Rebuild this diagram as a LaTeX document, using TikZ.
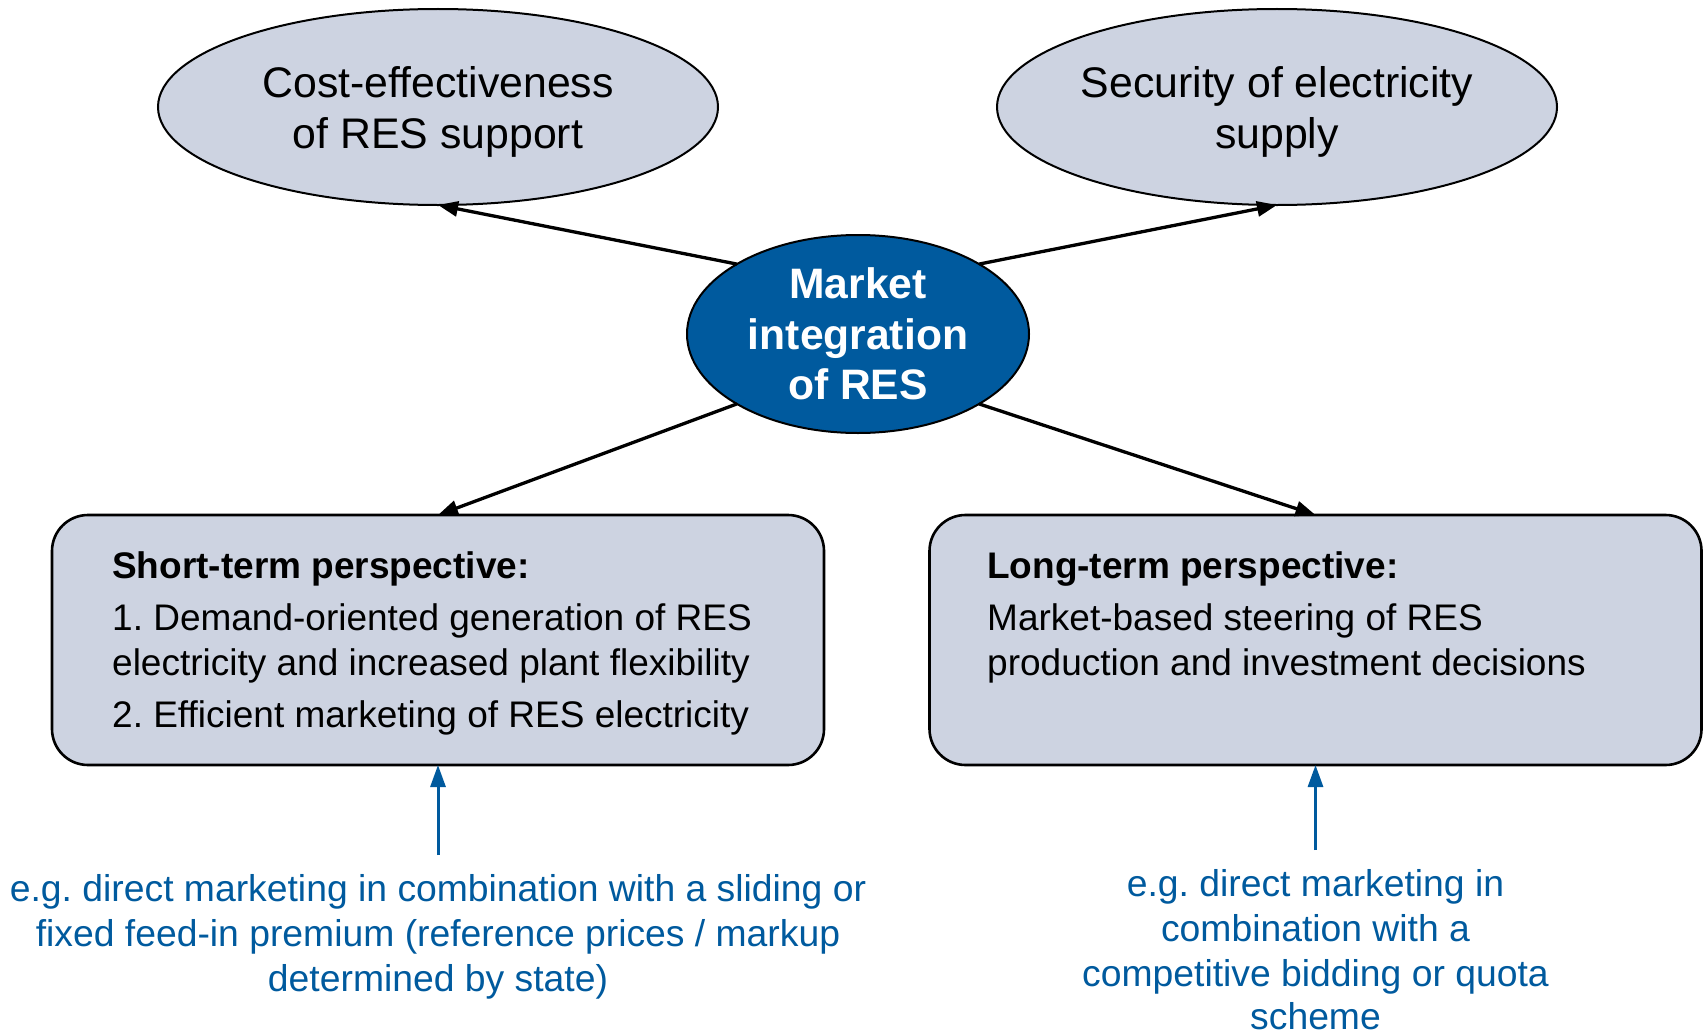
\documentclass[tikz,border=0pt]{standalone}
\usepackage{fontspec}
\setmainfont{Liberation Sans}
\usetikzlibrary{shapes.geometric,arrows.meta}
\definecolor{panel}{RGB}{205,211,225}
\definecolor{deepblue}{RGB}{0,90,158}
\frenchspacing
\begin{document}
\begin{tikzpicture}[x=1pt,y=-1pt,
  goal/.style={ellipse,draw=black,line width=2pt,fill=panel,
    minimum width=560pt,minimum height=196pt,inner sep=0pt,outer sep=0pt},
  hub/.style={ellipse,draw=black,line width=2pt,fill=deepblue,
    minimum width=342pt,minimum height=198pt,inner sep=0pt,outer sep=0pt},
  panelbox/.style={rectangle,rounded corners=36pt,draw=black,line width=2.6pt,
    fill=panel,minimum width=772pt,minimum height=250pt,inner sep=0pt,outer sep=0pt},
  bigtext/.style={anchor=base,inner sep=0pt,font=\fontsize{42.8pt}{50pt}\selectfont},
  hubtext/.style={anchor=base,inner sep=0pt,text=white,font=\fontsize{42.6pt}{50pt}\selectfont\bfseries},
  boxtext/.style={anchor=base west,inner sep=0pt,font=\fontsize{37pt}{45pt}\selectfont},
  boxhead/.style={boxtext,font=\fontsize{37pt}{45pt}\selectfont\bfseries},
  notetext/.style={anchor=base,inner sep=0pt,text=deepblue,font=\fontsize{37.3pt}{45pt}\selectfont},
  conn/.style={draw=black,line width=3.3pt,-{Triangle[length=20pt,width=15pt]}},
  noteconn/.style={draw=deepblue,line width=3pt,-{Triangle[length=22pt,width=15pt]}}
]
\useasboundingbox (0,0) rectangle (1707,1033);

% goals at the top
\node[goal] (cost) at (438,107) {};
\node[bigtext] (costA) at (438,97) {Cost-effectiveness};
\node[bigtext] (costB) at (438,148) {of RES support};

\node[goal] (secu) at (1277,107) {};
\node[bigtext] (secuA) at (1277,97) {Security of electricity};
\node[bigtext] (secuB) at (1277,148) {supply};

% central topic
\node[hub] (hub) at (858,334) {};
\node[hubtext] (hubA) at (858,298) {Market};
\node[hubtext] (hubB) at (858,349) {integration};
\node[hubtext] (hubC) at (858,399) {of RES};

% perspectives
\node[panelbox] (short) at (438,640) {};
\node[boxhead] (shortH) at (112,578) {Short-term perspective:};
\node[boxtext] (shortA) at (112,630) {1. Demand-oriented generation of RES};
\node[boxtext] (shortB) at (112,675) {electricity and increased plant flexibility};
\node[boxtext] (shortC) at (112,727) {2. Efficient marketing of RES electricity};

\node[panelbox] (long) at (1315.5,640) {};
\node[boxhead] (longH) at (987,578) {Long-term perspective:};
\node[boxtext] (longA) at (987,630) {Market-based steering of RES};
\node[boxtext] (longB) at (987,675) {production and investment decisions};

% instruments
\coordinate (shortIn) at (438,855);
\node[notetext] (snA) at (438,901) {e.g. direct marketing in combination with a sliding or};
\node[notetext] (snB) at (438,946) {fixed feed-in premium (reference prices / markup};
\node[notetext] (snC) at (438,991) {determined by state)};

\coordinate (longIn) at (1315.5,850);
\node[notetext] (lnA) at (1315.5,896) {e.g. direct marketing in};
\node[notetext] (lnB) at (1315.5,941) {combination with a};
\node[notetext] (lnC) at (1315.5,986) {competitive bidding or quota};
\node[notetext] (lnD) at (1315.5,1029) {scheme};

% connectors
\draw[conn] (hub.150) -- (cost.south);
\draw[conn] (hub.30) -- (secu.south);
\draw[conn] (hub.210) -- (short.north);
\draw[conn] (hub.330) -- (long.north);
\draw[noteconn] (shortIn) -- (short.south);
\draw[noteconn] (longIn) -- (long.south);
\end{tikzpicture}
\end{document}
